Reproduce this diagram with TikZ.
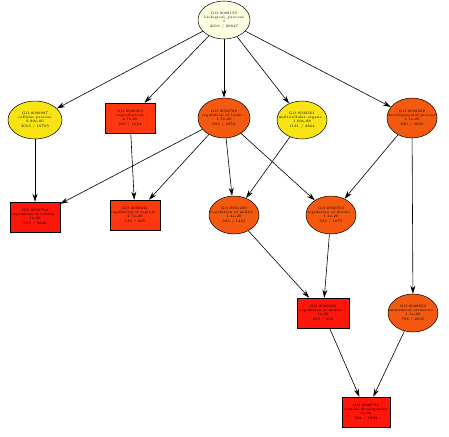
\documentclass[tikz,border=0pt]{standalone}
\usetikzlibrary{arrows.meta,shapes.geometric}
\definecolor{cyel}{RGB}{248,228,18}
\definecolor{corg}{RGB}{245,88,15}
\definecolor{cred}{RGB}{255,22,10}
\definecolor{cro}{RGB}{255,55,15}
\definecolor{croot}{RGB}{255,255,225}
\tikzset{
  base/.style={draw=black, line width=0.5pt, align=center, font=\fontsize{3.6}{4.2}\selectfont, inner sep=0pt},
  ell/.style={base, ellipse, inner xsep=-20pt, inner ysep=-10pt, minimum width=50pt, minimum height=39pt},
  box/.style={base, rectangle, minimum width=50pt, minimum height=30pt},
  arr/.style={-{Stealth[length=8pt,width=5pt]}, line width=0.6pt}
}
\begin{document}
\begin{tikzpicture}[x=1pt,y=-1pt]
\useasboundingbox (0,0) rectangle (449,436);
\node[ell, fill=croot, minimum width=52pt, minimum height=38pt] (root) at (224,20) {GO:0008150\\biological\_process\\1\\2016 / 20847};
\node[ell, fill=cyel, minimum width=54pt, minimum height=38pt] (a) at (35,120) {GO:0009987\\cellular process\\9.80e-06\\3013 / 16705};
\node[box, fill=cro] (b) at (130,118) {GO:0000003\\reproduction\\2.7e-20\\350 / 1054};
\node[ell, fill=corg, minimum width=52pt, minimum height=40pt] (c) at (224,118) {GO:0050789\\regulation of biolo...\\1.7e-20\\993 / 4253};
\node[ell, fill=cyel, minimum width=50pt, minimum height=38pt] (d) at (302,120) {GO:0032501\\multicellular organi...\\1.00e-08\\1131 / 4864};
\node[ell, fill=corg, minimum width=50pt, minimum height=40pt] (e) at (412,118) {GO:0032502\\developmental process\\1.1e-20\\839 / 3600};
\node[box, fill=cred] (f) at (35,217) {GO:0050794\\regulation of cellula...\\1e-30\\913 / 3940};
\node[box, fill=cro] (g) at (135,215) {GO:2000241\\regulation of reprod...\\2.7e-20\\136 / 295};
\node[ell, fill=corg, minimum width=50pt, minimum height=38pt] (h) at (234,215) {GO:0051239\\regulation of multic...\\1.4e-20\\393 / 1431};
\node[ell, fill=corg, minimum width=50pt, minimum height=38pt] (i) at (331,215) {GO:0050793\\regulation of develo...\\1.4e-20\\333 / 1075};
\node[box, fill=cred, minimum width=52pt] (j) at (323,313) {GO:2000026\\regulation of multic...\\1e-30\\233 / 693};
\node[ell, fill=corg, minimum width=50pt, minimum height=38pt] (k) at (413,313) {GO:0048856\\anatomical structure...\\1.1e-20\\708 / 2835};
\node[box, fill=cred, minimum width=48pt] (l) at (366,412) {GO:0048731\\system development\\1e-30\\531 / 1922};
\foreach \t in {a,b,c,d,e} \draw[arr] (root) -- (\t);
\draw[arr] (a) -- (f);
\draw[arr] (b) -- (g);
\foreach \t in {f,g,h,i} \draw[arr] (c) -- (\t);
\draw[arr] (d) -- (h);
\draw[arr] (e) -- (i);
\draw[arr] (e) -- (k);
\draw[arr] (h) -- (j);
\draw[arr] (i) -- (j);
\draw[arr] (j) -- (l);
\draw[arr] (k) -- (l);
\end{tikzpicture}
\end{document}
